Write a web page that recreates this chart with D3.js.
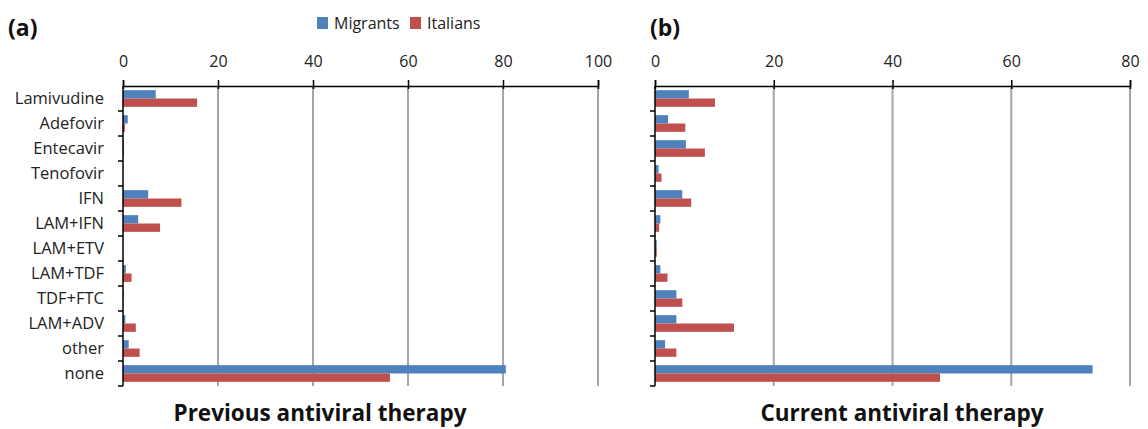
<!DOCTYPE html>
<html>
<head>
<meta charset="utf-8">
<script src="https://cdn.jsdelivr.net/npm/d3@7"></script>
<style>
  body { margin: 0; background: #fff; }
  text { font-family: "Open Sans", Lato, sans-serif; }
</style>
</head>
<body>
<div id="chart"></div>
<script>
// therapies, top to bottom
const therapies = ["Lamivudine", "Adefovir", "Entecavir", "Tenofovir", "IFN", "LAM+IFN",
  "LAM+ETV", "LAM+TDF", "TDF+FTC", "LAM+ADV", "other", "none"];
const groups = ["Migrants", "Italians"];

// (a) previous antiviral therapy, %
const prevMigrants = [6.9, 1.0, 0.2, 0, 5.3, 3.2, 0, 0.6, 0.2, 0.5, 1.2, 80.6];
const prevItalians = [15.6, 0.4, 0.2, 0, 12.3, 7.8, 0, 1.8, 0, 2.7, 3.5, 56.2];

// (b) current antiviral therapy, %
const currMigrants = [5.7, 2.2, 5.2, 0.6, 4.6, 0.9, 0.3, 0.9, 3.6, 3.6, 1.7, 73.7];
const currItalians = [10.1, 5.1, 8.4, 1.1, 6.1, 0.7, 0.3, 2.1, 4.6, 13.3, 3.6, 48.0];

const colors = { Migrants: "#4f81bd", Italians: "#c0504d" };

const W = 1148, H = 429;
const svg = d3.select("#chart").append("svg")
  .attr("width", W).attr("height", H);

function panel(opts) {
  const { left, right, max, ticks, migrants, italians, letter, title, showLabels } = opts;
  const top = 86, bottom = 386;

  const x = d3.scaleLinear().domain([0, max]).range([left, right]);
  const y = d3.scaleBand().domain(therapies).range([top, bottom]);
  const y1 = d3.scaleBand().domain(groups).range([0, y.bandwidth()]).paddingOuter(0.5).paddingInner(0);

  const g = svg.append("g");

  // gray gridlines
  g.selectAll("line.grid")
    .data(ticks.filter(t => t > 0))
    .join("line")
      .attr("class", "grid")
      .attr("x1", d => x(d)).attr("x2", d => x(d))
      .attr("y1", top).attr("y2", bottom)
      .attr("stroke", "#a6a6a6").attr("stroke-width", 2);

  // bars
  const rows = therapies.map((t, i) => ({ t, Migrants: migrants[i], Italians: italians[i] }));
  g.selectAll("g.row")
    .data(rows)
    .join("g")
      .attr("transform", d => `translate(0,${y(d.t)})`)
    .selectAll("rect")
    .data(d => groups.map(k => ({ k, v: d[k] })))
    .join("rect")
      .attr("x", x(0))
      .attr("y", d => y1(d.k))
      .attr("width", d => x(d.v) - x(0))
      .attr("height", y1.bandwidth())
      .attr("fill", d => colors[d.k]);

  // top axis
  const ax = g.append("g")
    .attr("transform", `translate(0,${top})`)
    .call(d3.axisTop(x).tickValues(ticks).tickSize(6).tickPadding(13));
  ax.select(".domain").attr("stroke", "#000").attr("stroke-width", 1.5);
  ax.selectAll(".tick line").attr("stroke", "#000").attr("stroke-width", 1.5).attr("y2", 3).attr("y1", -6);
  ax.selectAll(".tick text").attr("font-size", 16).attr("fill", "#222")
    .attr("font-family", "'Open Sans', sans-serif");

  // left axis: tick marks between categories
  g.append("line")
    .attr("x1", x(0)).attr("x2", x(0)).attr("y1", top).attr("y2", bottom)
    .attr("stroke", "#000").attr("stroke-width", 1.5);
  g.selectAll("line.ytick")
    .data(d3.range(1, therapies.length + 1))
    .join("line")
      .attr("x1", x(0) - 5).attr("x2", x(0))
      .attr("y1", i => top + i * y.step()).attr("y2", i => top + i * y.step())
      .attr("stroke", "#000").attr("stroke-width", 1.5);

  if (showLabels) {
    g.selectAll("text.cat")
      .data(therapies)
      .join("text")
        .attr("x", x(0) - 19)
        .attr("y", d => y(d) + y.bandwidth() / 2)
        .attr("dy", "0.35em")
        .attr("text-anchor", "end")
        .attr("font-size", 16.5)
        .attr("fill", "#222")
        .text(d => d);
  }

  svg.append("text")
    .attr("x", letter.x).attr("y", 36)
    .attr("font-size", 23).attr("font-weight", "bold").attr("fill", "#111")
    .text(letter.text);

  svg.append("text")
    .attr("x", title.x).attr("y", 421)
    .attr("text-anchor", "middle")
    .attr("font-size", 22.5).attr("font-weight", "bold").attr("fill", "#111")
    .text(title.text);
}

panel({
  left: 123, right: 598, max: 100, ticks: [0, 20, 40, 60, 80, 100],
  migrants: prevMigrants, italians: prevItalians,
  letter: { x: 8, text: "(a)" }, title: { x: 320, text: "Previous antiviral therapy" },
  showLabels: true
});

panel({
  left: 655, right: 1130, max: 80, ticks: [0, 20, 40, 60, 80],
  migrants: currMigrants, italians: currItalians,
  letter: { x: 650, text: "(b)" }, title: { x: 902, text: "Current antiviral therapy" },
  showLabels: false
});

// legend
const legend = svg.append("g").attr("transform", "translate(317,17)");
const item = legend.selectAll("g")
  .data(groups)
  .join("g")
    .attr("transform", (d, i) => `translate(${i * 93},0)`);
item.append("rect").attr("width", 11).attr("height", 12).attr("fill", d => colors[d]);
item.append("text").attr("x", 17).attr("y", 6).attr("dy", "0.35em")
  .attr("font-size", 16).attr("fill", "#222").text(d => d);
</script>
</body>
</html>
